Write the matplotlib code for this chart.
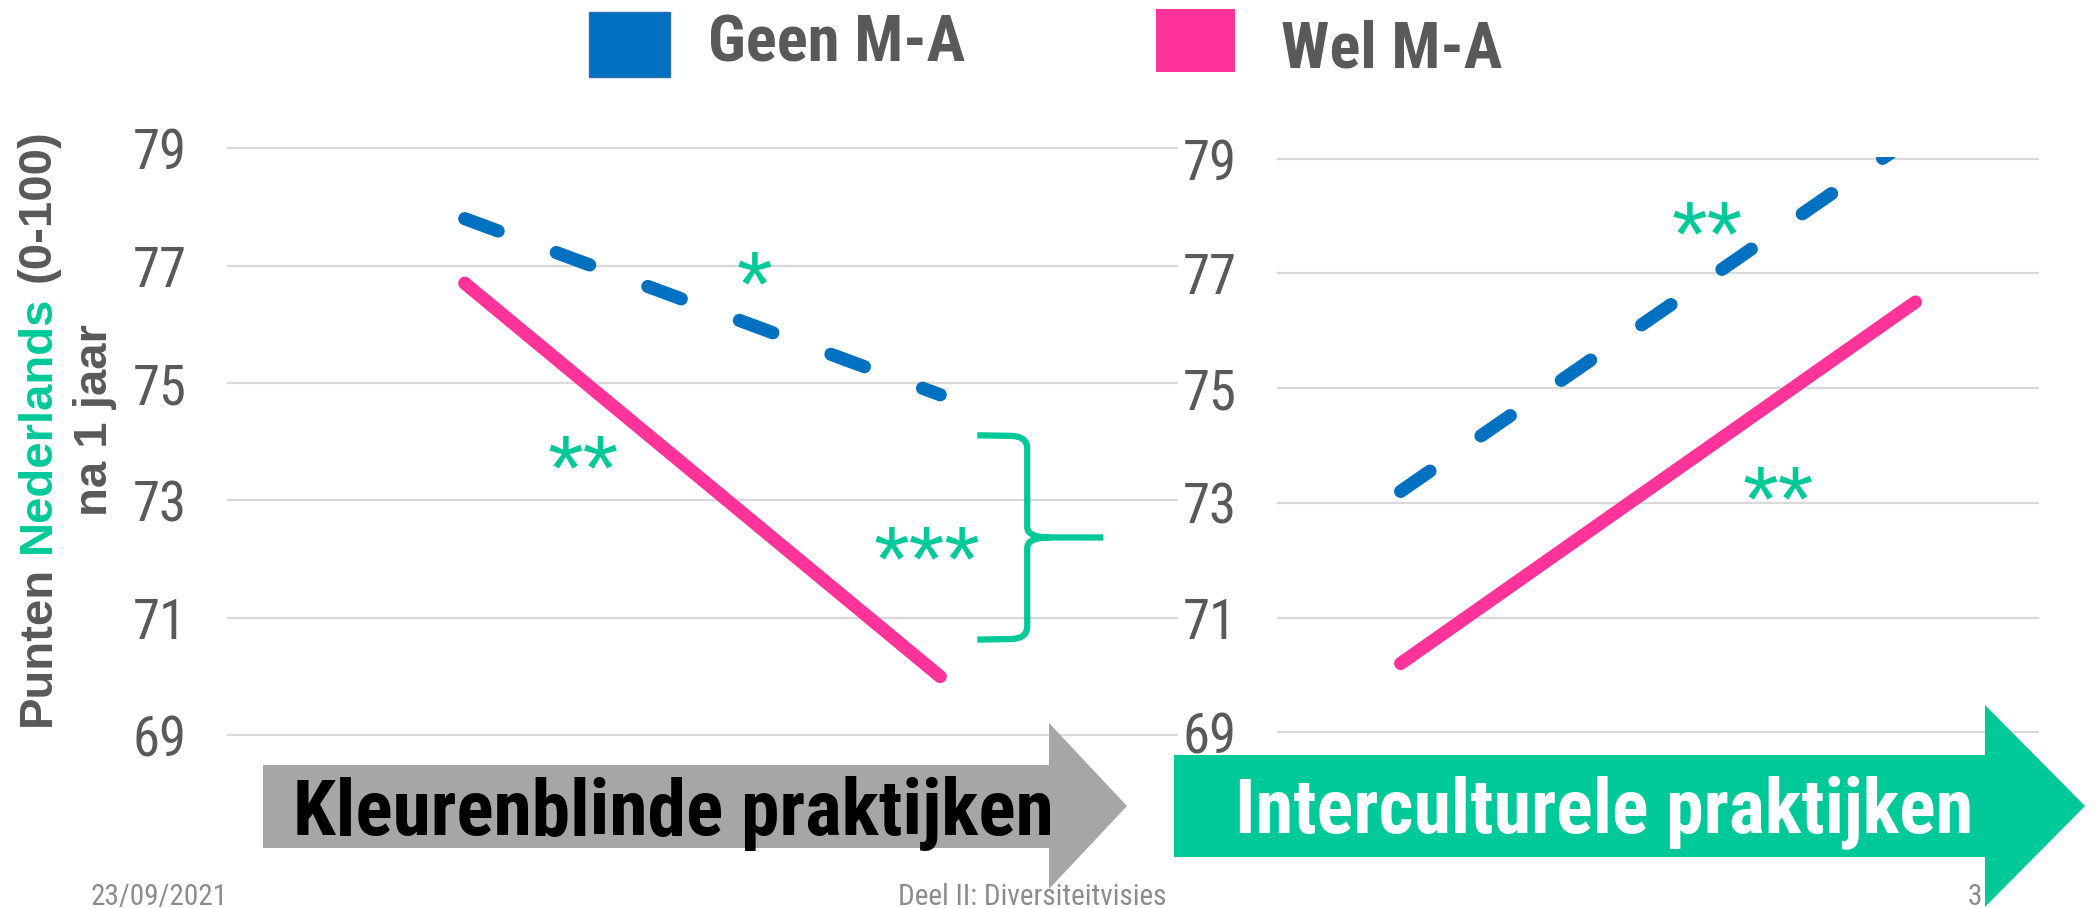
import matplotlib
matplotlib.use('Agg')
import matplotlib.pyplot as plt
from matplotlib import font_manager as fm
from matplotlib.patches import Polygon, Rectangle, PathPatch
from matplotlib.path import Path

# data
timepoints = [0, 1]
series_names = ['Geen M-A', 'Wel M-A']
kleurenblind_geen = [77.8, 74.8]
kleurenblind_wel = [76.7, 70.0]
intercultureel_geen = [73.2, 79.4]
intercultureel_wel = [70.2, 76.5]
y_ticks = [69, 71, 73, 75, 77, 79]

# significance stars (text, x, y) per panel
stars_left = [('*', 0.61, 77.07), ('**', 0.25, 73.94), ('***', 0.973, 72.38)]
stars_right = [('**', 0.596, 78.07), ('**', 0.734, 73.45)]

BLUE = '#0070C0'
PINK = '#FF3399'
GREEN = '#00C999'
GREY_TXT = '#595959'
GRID = '#D9D9D9'
ARROW_GREY = '#A6A6A6'


def has_font(name):
    try:
        fm.findfont(fm.FontProperties(family=name), fallback_to_default=False)
        return True
    except ValueError:
        return False


# the slide uses a narrow Arial; take the closest one that is installed
NARROW = 'Liberation Sans'
for cand in ['Liberation Sans Narrow', 'Arial Narrow', 'Roboto Condensed',
             'Archivo Narrow', 'PT Sans Narrow', 'Fira Sans Condensed']:
    if has_font(cand):
        NARROW = cand
        break

W, H = 2096, 908
fig = plt.figure(figsize=(W / 100, H / 100), dpi=100)
fig.patch.set_facecolor('white')
r = fig.canvas.get_renderer()


def text_w(s, **kw):
    t = fig.text(0, 0, s, **kw)
    w = t.get_window_extent(renderer=r).width
    t.remove()
    return w


def fit(s, target, family=NARROW, weight='normal', cap=None):
    # font size giving the measured pixel width of the text on the slide
    size = 100 * target / text_w(s, fontsize=100, family=family, fontweight=weight)
    return min(size, cap) if cap else size


axL = fig.add_axes([0.1083, 0.1889, 0.4537, 0.6492])
axR = fig.add_axes([0.6093, 0.1922, 0.3635, 0.6344])

tick_fs = fit('79', 54, cap=42)


def style(ax, xlim):
    ax.set_xlim(*xlim)
    ax.set_ylim(68.98, 79.02)
    ax.set_yticks(y_ticks)
    ax.set_xticks([])
    for s in ax.spines.values():
        s.set_visible(False)
    ax.grid(axis='y', color=GRID, linewidth=1.6)
    ax.set_axisbelow(True)
    ax.tick_params(axis='y', length=0, pad=29, labelsize=tick_fs, labelcolor=GREY_TXT)
    for lbl in ax.get_yticklabels():
        lbl.set_fontfamily(NARROW)
    ax.patch.set_alpha(0)


style(axL, (-0.5, 1.5))
style(axR, (-0.24, 1.24))

for ax, geen, wel in [(axL, kleurenblind_geen, kleurenblind_wel),
                      (axR, intercultureel_geen, intercultureel_wel)]:
    ax.plot(timepoints, wel, color=PINK, linewidth=9.5, solid_capstyle='round')
    ax.plot(timepoints, geen, color=BLUE, linewidth=9.5, dashes=(2.7, 4.7),
            dash_capstyle='round')

STAR_FS = 66
for ax, stars in [(axL, stars_left), (axR, stars_right)]:
    for s, x, y in stars:
        ax.annotate(s, xy=(x, y), xytext=(0, -0.585 * STAR_FS), textcoords='offset points',
                    ha='center', va='baseline', fontsize=STAR_FS, color=GREEN,
                    family='Liberation Sans', annotation_clip=False, zorder=6)

# curly brace between the two end points of the left panel
verts = [(1.078, 74.11), (1.15, 74.10), (1.183, 74.09), (1.183, 73.88),
         (1.183, 72.55), (1.183, 72.37), (1.23, 72.37), (1.343, 72.37),
         (1.23, 72.37), (1.183, 72.37), (1.183, 72.19),
         (1.183, 70.86), (1.183, 70.65), (1.15, 70.64), (1.078, 70.63)]
codes = [Path.MOVETO, Path.LINETO, Path.CURVE3, Path.CURVE3,
         Path.LINETO, Path.CURVE3, Path.CURVE3, Path.LINETO,
         Path.MOVETO, Path.CURVE3, Path.CURVE3,
         Path.LINETO, Path.CURVE3, Path.CURVE3, Path.LINETO]
axL.add_patch(PathPatch(Path(verts, codes), facecolor='none', edgecolor=GREEN,
                        linewidth=4.5, clip_on=False, zorder=5))

# overlay in pixel units for legend, arrows, labels
ov = fig.add_axes([0, 0, 1, 1])
ov.set_xlim(0, W)
ov.set_ylim(H, 0)
ov.axis('off')

ov.add_patch(Polygon([(263, 765), (1049, 765), (1049, 723), (1127, 806), (1049, 889),
                      (1049, 848), (263, 848)], closed=True, facecolor=ARROW_GREY,
                     edgecolor='none'))
ov.add_patch(Polygon([(1174, 755), (1985, 755), (1985, 705), (2085, 806), (1985, 907),
                      (1985, 857), (1174, 857)], closed=True, facecolor=GREEN,
                     edgecolor='none'))
ov.text(673, 835, 'Kleurenblinde praktijken', ha='center', va='baseline',
        fontsize=fit('Kleurenblinde praktijken', 760, weight='bold', cap=60),
        fontweight='bold', color='black', family=NARROW)
ov.text(1604, 832, 'Interculturele praktijken', ha='center', va='baseline',
        fontsize=fit('Interculturele praktijken', 738, weight='bold', cap=60),
        fontweight='bold', color='white', family=NARROW)

# legend
leg_fs = fit(series_names[0], 257, weight='bold', cap=50)
ov.add_patch(Rectangle((589, 12), 81, 65, facecolor=BLUE, edgecolor='#2F6FA8', linewidth=1))
ov.text(708, 62, series_names[0], ha='left', va='baseline', fontsize=leg_fs,
        fontweight='bold', color=GREY_TXT, family=NARROW)
ov.add_patch(Rectangle((1156, 9), 79, 63, facecolor=PINK, edgecolor='none'))
ov.text(1281, 68, series_names[1], ha='left', va='baseline', fontsize=leg_fs,
        fontweight='bold', color=GREY_TXT, family=NARROW)

# y label, first line in three colours
lab_kw = dict(fontsize=34, fontweight='bold', family='Liberation Sans')
pieces = [('Punten', GREY_TXT), ('Nederlands', GREEN), ('(0-100)', GREY_TXT)]
total = text_w('Punten Nederlands (0-100)', **lab_kw)
gap1 = (text_w('Punten Nederlands', **lab_kw) - text_w('Punten', **lab_kw)
        - text_w('Nederlands', **lab_kw))
gap2 = (text_w('Nederlands (0-100)', **lab_kw) - text_w('Nederlands', **lab_kw)
        - text_w('(0-100)', **lab_kw))
y0 = 428 + total / 2
for (s, c), g in zip(pieces, [gap1, gap2, 0]):
    ov.text(50, y0, s, rotation=90, rotation_mode='anchor', ha='left', va='baseline',
            color=c, **lab_kw)
    y0 -= text_w(s, **lab_kw) + g
ov.text(107, 420, 'na 1 jaar', rotation=90, rotation_mode='anchor', ha='center',
        va='baseline', color=GREY_TXT, **lab_kw)

# footer
foot_fs = fit('Deel II: Diversiteitvisies', 268, cap=24)
foot_kw = dict(fontsize=foot_fs, color='#8C8C8C', family=NARROW, va='baseline')
ov.text(91, 905, '23/09/2021', ha='left', **foot_kw)
ov.text(1032, 905, 'Deel II: Diversiteitvisies', ha='center', **foot_kw)
ov.text(1982, 905, '3', ha='right', **foot_kw)

fig.savefig('out.png', dpi=100)
